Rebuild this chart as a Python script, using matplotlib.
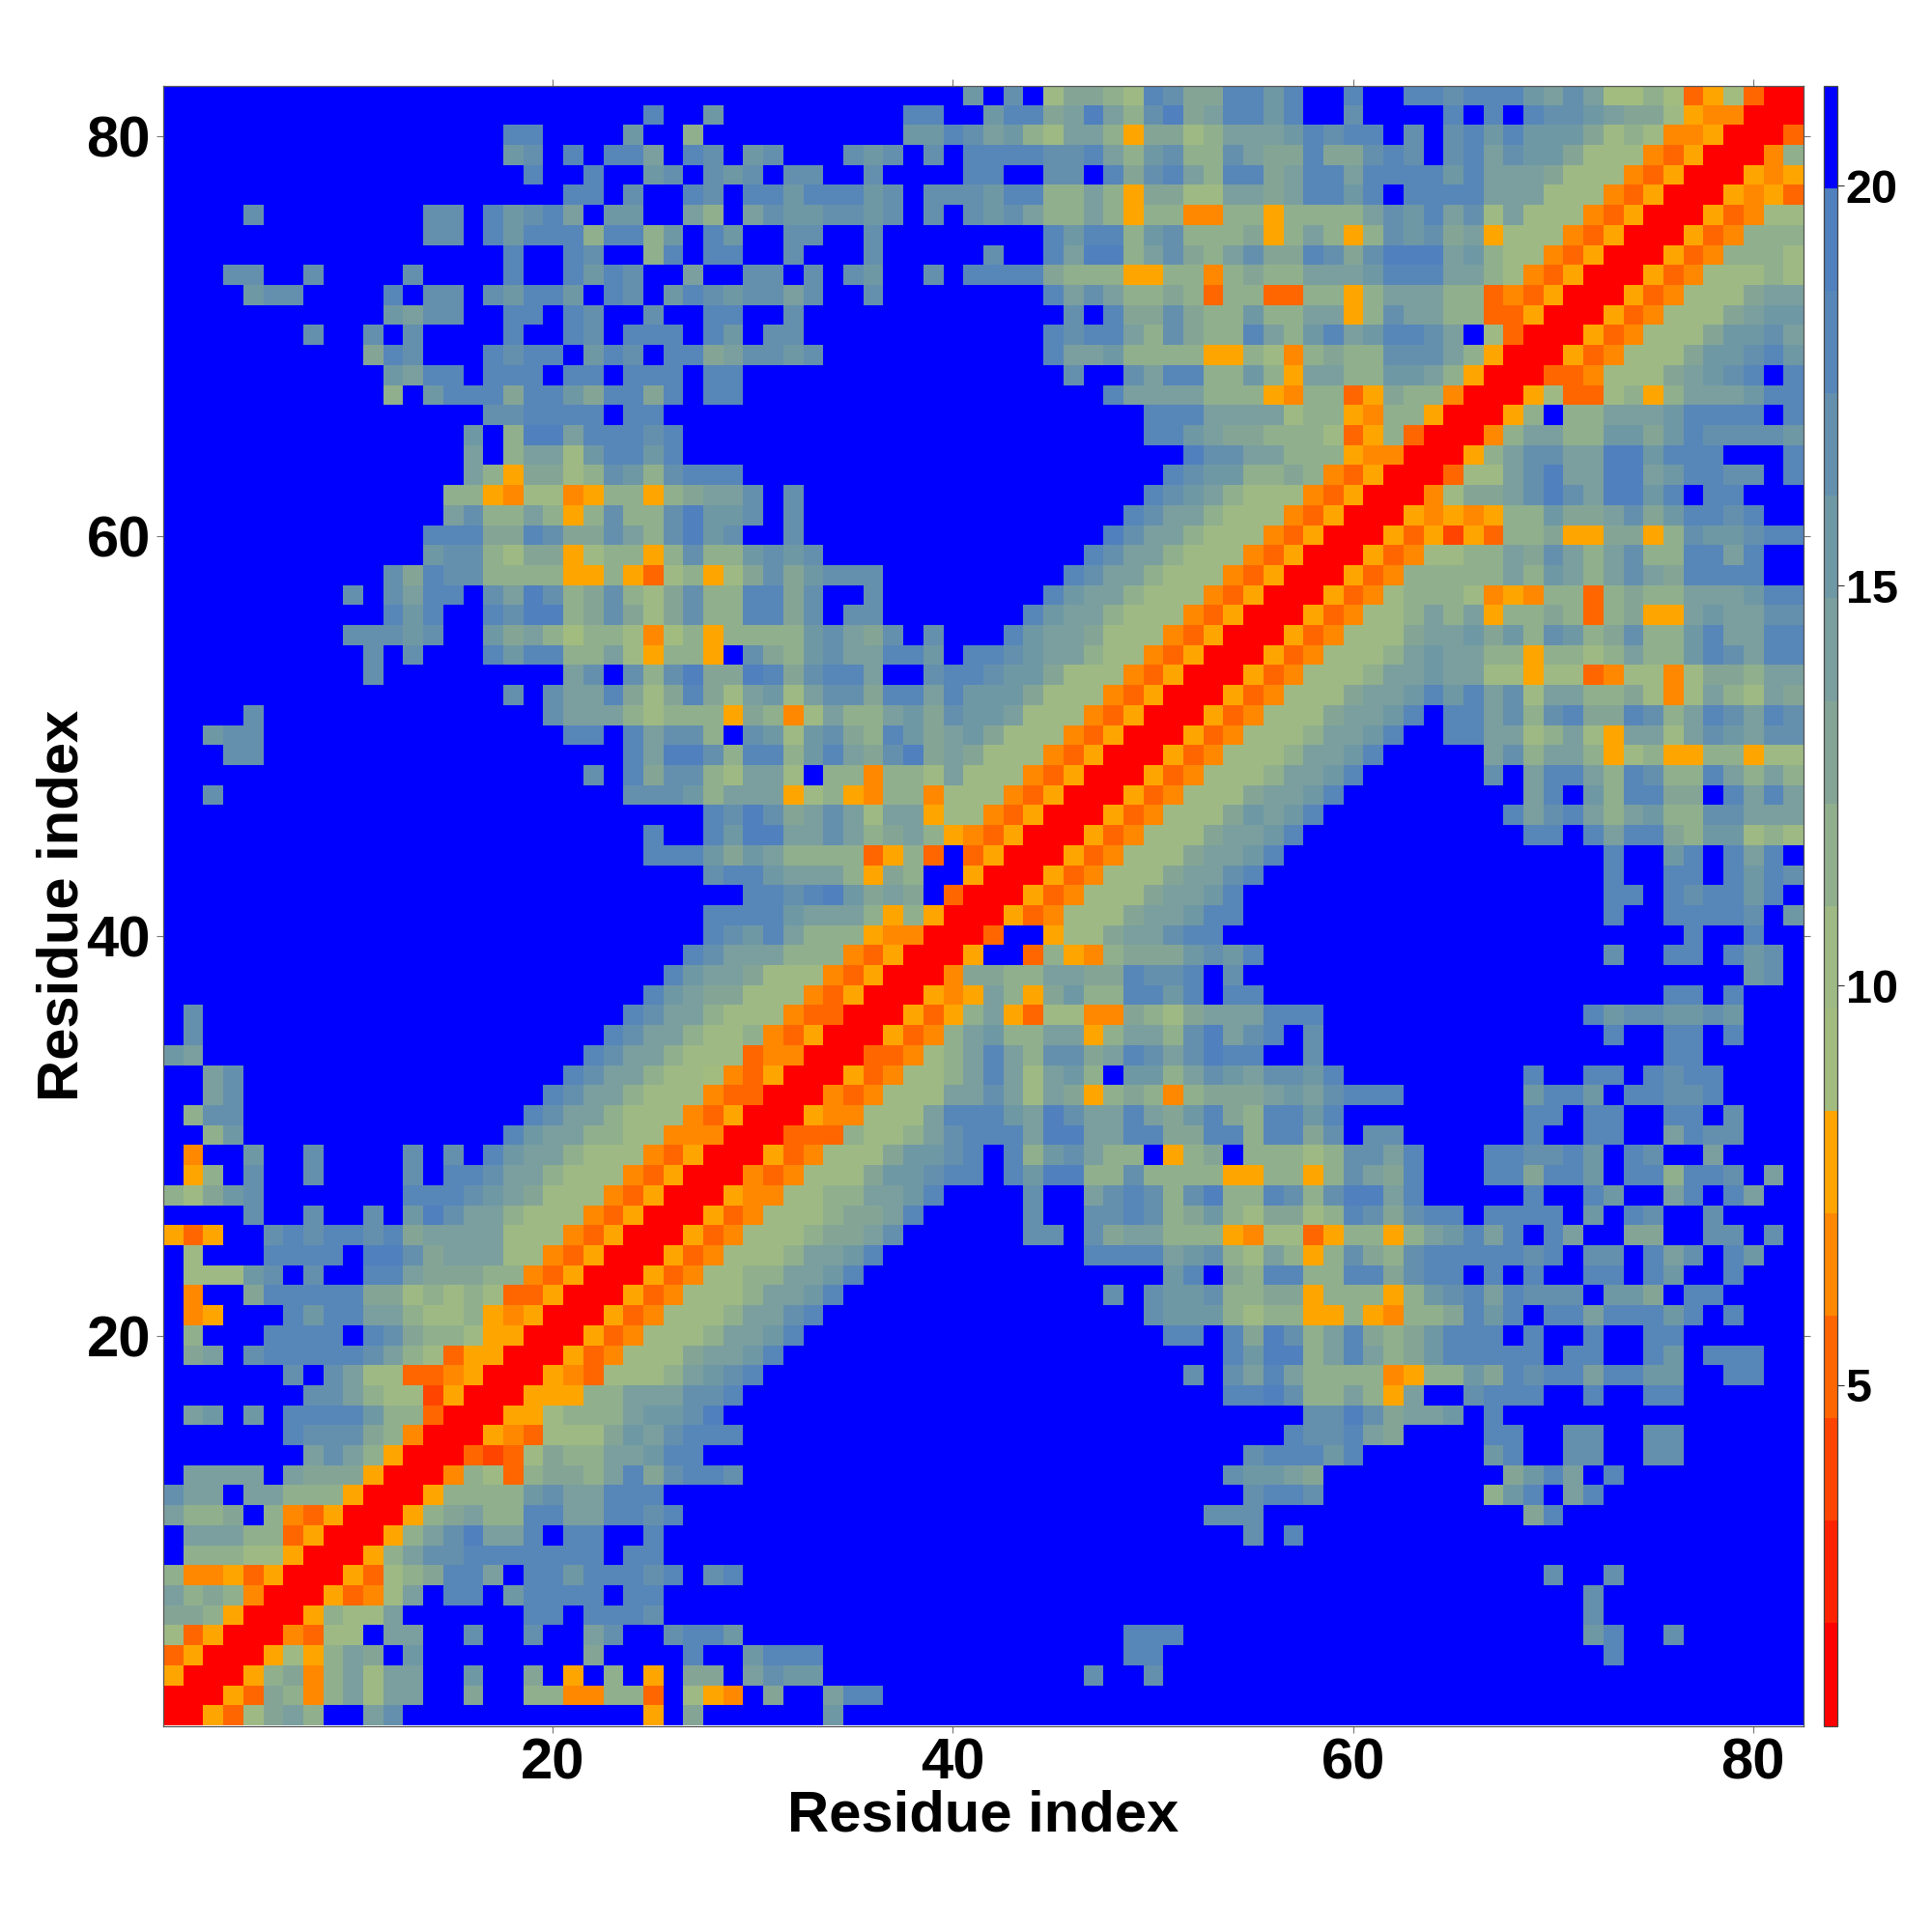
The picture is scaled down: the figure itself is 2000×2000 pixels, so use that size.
import re
import numpy as np
import matplotlib
matplotlib.use('Agg')
import matplotlib.pyplot as plt
from matplotlib.colors import ListedColormap, BoundaryNorm

# contact map, one text row per matrix row (top row first)
# each char is a colour level 0-f, <n> means n blue cells
LEVEL_CHARS = '0123456789abcdef'
LEVEL_COLORS = ['#ff0000', '#ff2200', '#ff4400', '#ff6600', '#ff8800', '#ffa500',
                '#a2bc80', '#9eb984', '#90af8c', '#84a596', '#7a9f9e', '#6f98a5',
                '#6490ae', '#5786b9', '#5080be', '#0000ff']
VMIN = 0.74
VMAX = 21.25

MAP_ROWS = [
    "<28> <12>bfcf79987dc99dd bdffdffddcdddbaca6686356300",
    "<24>dffb <9>ddffbdd9aea8ce9add bdffcffffdfdfdccba997544000",
    "<17>dd<4>b<2>8f <9>bbdcab87aa859978aa abdcddfcfcdbdbbb978744 50003",
    "<17>bcfdfddafdc fbcfffcbcfcfddddccda8bc88ca 99d99cdcfcdacbb977743500048",
    "<18>dffdffbcfc bcfccffcffffddffccfd9cda8dd 9addaddddbdaaa9777435000545",
    "<20>ddfcffdc fddbdddbcfcccbdd88a859977aa 9addbdfddddaaa7774350005453",
    "<4>c<8>ccfdbcdafbbffa8 facbbccbcfcfcbca88a85884488 58888acbdac7a77743500053477",
    "<13>ccfdbddd8dd8bfd bffccffc<8>dbdd8bc8889 58a858cbc9a5777435000534888",
    "<17>dffdcff8dfd dffcfffc<5>cffdaee8ac98ac 99dc9ceeeab8774350005348887",
    "<3>cc<2>c<4>c<4>d<2>dbdc<2>af fccfcfcbffcfdddd98885588489 88aaabdddaa874350005 3477787",
    "<4>bcc<4>dfccfcbddbfdcfbdc bccacffc<8>daca8898388 338858aaa88343500053 47779aa",
    "<11>bacc<2>ddfdc<2>c<2>d dffc<13>cfd99c988b 88aa58caa88335000534 7779abb",
    "<7>c<2>cfc<4>d<2>dcfdddfd bfcc<12>dcdda8c988d a8bdabddcaf730005347 779bbca",
    "<10>9dc<3>dcddfbdcfdd9 accbc<11>daab8888558 748988ccca8500053477 79bbcdb",
    "<11>baddfdddfddfdddfd d<16>cffcadd88b 85aa88bba85000334777 9abcdfd",
    "<11>8fbddd9ddb9dd9dfd d<18>daaaa888 54883598840005733785 8aaabdd",
    "<16>ccddddfdd<3> <21>dddaaa a7885488500058f88aaa bddddfd",
    "<15>bf8eeadddcdff <21>ddba99 8887358300048aa88bb9 bdccccb",
    "<15>af8aa7bddbdff <23>ecca a88854400058accaaeeb dddfffd",
    "<15>a85997 8cb8cdd d<21>dcbb8 898435000377aceaaeea bddccfd",
    "<14>8854774588589a acfc<17>dcba87 774350004799acecaeeb dfddfff",
    "<14>ac88a858c88ceb bcfc<16>dcaa877 74350005454588b99ac9 bddcdff",
    "<13>ddd99dc99ca8ceb cffc<15>ecaa8777 43500053525388955995 8cbbcdd",
    "<13>bcc8799578858c8 8bcbc<13>dcaa87774 350005347788a9ca8ac8 8ddadff",
    "<11>c9dcc888855853785 79c9bccc<9>dcaa877743 500053488888a8ba8aca 9ddddff",
    "<9>cfcaddfcaec89c879c8 8dd9cffc<8>dbaa8777435 00053478887454883898 8aaabdd",
    "<11>dbdffdcee89c979c8 8dd9cfcc<7>dbaa87774350 005347 78a8a588983895 5abaacc",
    "<9>cccbcffb9a868874685 8888bca9cfcfffdbaa977743500 05347779aab9b8cb89c8 8bdaadd",
    "<10>cfcfffdbdd88a75885 fc98bcaaddbfddcbaa877435000 534777 8abaa885887 8a88bdcadd",
    "<10>c<9>acfc8ce9 9ed9cddaffcddcbb97774350005 347778aabaa775773477 47 998aa",
    "<17>cfcaad979d9 7ab7acc9ddadbbb977743500053 47779aabdbdac7aa8897 47a87a9",
    "<4>c<14>caaa87888 5984 7a88ab9cbba777435000534 7779aabdfddac8cd99dc 8adcadc",
    "<2>bcc<15>ddfdacc8 fcb7bc98db9ab97774350005347 778aabdffddaa78a75aa 7acbacc",
    "<3>cc<18>daeec 8dd8bda9ce9a97774350 0053477 78aabdffff fac8aa8578 5588577",
    "<21>cfd9cc8 7aa7f884887a77743500 0534777 8aabd<6>cfadda8dc88da8a8",
    "<2>c<20>cccb8 aaa57854884777435000 5347779 aabd<9>adfb8dd99fdada",
    "<27>d cec9aca7aa5774350005 347779b abd<9>dacda8ab88ccaaa",
    "<24>dffd beeaaca89a8543500053 4777 9aa bd<11>ddfdadd98bb787",
    "<24>dddb 9ba88883583f350005347779aab d<16>dffbdfdadf",
    "<27>c ddbaaa8598ff50005347779aacd <17>dffddfdbdc",
    "<28> fddcdeb9a9f30005347 779aabdf <17>ddfdcddbdf",
    "<27>d dddbaaa8585000534777 9aabddf <17>dffddddcfb",
    "<27>d cbda8885440003ff5779 aacddff <21>dffdff",
    "<26>dc aaa888435 0005ff38548 999bcbd <17>cffddfdbcf",
    "<25>dba a977743500 0499 88aa99 dccdfcf <24>bcf",
    "<24>dba9 9777435000545a859b88 ddbdfdd <20>ddfdfff",
    "fc<21>dcaa8 7774330005358a537744 9879aaa ddd<13>dbccbbcb<3>",
    "fc<20>dcaa87 784350005348ab88aa58 aa8ceac dfc<14>dffddfdfff",
    "ba<19>dcaa877 734400033478ada8cc9a dcacedd ffc<17>dd<5>",
    "ffac<16>dcaa8776 435000534778ada7ab8f bb8acba ccbd<9>dffddfdcdd<4>",
    "ffac<15>dcaa87774 33000434777aaca7a958 9848999 abacddd<6>bddbfddccd<4>",
    "f8cc<14>dcaa877743 5000544777adddbaecaa da9bd98 ddbd<9>ddfddffddfc<3>",
    "ff8b<13>dbaa8877444 0003338778acdddaeeaa dd99dd8 dd9cfcc<6>dffddffadcc<3>",
    "f4ffbffc<4>cfcfdbaa87774350 0053477 79bbcdfd8bca8 8f589f8 8878ccadfffddccdbfdc ffaffff",
    "f58fcffc<4>cfddcaa877743500 043477 79bbcddfdbee88 c888855 8858ca9dfffdd9ddbfdd 8ddcfaf",
    "879bc<7>dddcba9777435000 54477 88aabdffffcffac dc8ce88 dc8ceead<5>dffdbffadfdaff",
    "ffffcffcffcfbecaa87774350005 3477789 9adfffffcffcc dc89b87 9978dc9cddfddddfbfdc ffcffff",
    "535ffcdcddcd9aaaa777435000 53 4777 899ac<6>ccfc9aa88854 773588 58abdadfdaff99 ffccfcf",
    "f7fffddddfeec9aaa7743500053 4 7778aabd<10>ddddabc87 a858c98cdddddcdfccfd acfdbff",
    "f777bcfcffdda99988435000 5347 788aabd<15>bdf98 dd88dd9cddfdfdffddfd bffdfff",
    "f4ff9ddddd9978787335000 53477 78aabd<13>cfcbbc88 99588858bcdadcccfbb9 fddffff",
    "f45fffdbddaa8778545000534777 8aacd<16>cbbb87 8855854889dbdfddaddd bdfdfff",
    "f8fffddddfdc988755000534 7778 aabd<18>ddfd9 ec8ad989bdddfdffdffd dffffff",
    "f9afcdddddca87355000534 7779a abd<22>db ee8ada89bdddddfddffd bfdddff",
    "ffffffcfca773345000543 7778ab cd<21>cfca da88884588b9dcddaddb bffddff",
    "<7>cca87725000555 88aaacc d<24>dd ec88a85affcdddffdffd dffffff",
    "fabfbfddddb88300055 7888abbce <27> ffccec9aabfd<15>",
    "<6>dccc984000543777 9bacdd d<26> fdccda9<4>ddffccffcc<6>",
    "<7>aca85000323 7988aabddf <26>c dddbd<6>bdffccffcc<6>",
    "faaaafa99950004873 8998ad9cdd c<24>cb ba9<9>9bdafd<9>",
    "caafaa888500058888 bcaadddfff <26>c ddc<8>8bdfad<10>",
    "a889f84350005 89a88ddaaddcdff <24>ccc <13>9d<12>",
    "faaa883500058 aceaadfddffdfff <26>c fd<25>",
    "f8887750005 8accdddddddfddfff <27> <27>",
    "84453500053789ddafddbdddcdfc d<26> <14>cffc<9>",
    "a8984000 5347afddfbddddfddfff <27> <16>c<10>",
    "9985000 5877a<6>ddfdddcfff <27> <16>c<10>",
    "735000 4377faaffcffcffacffcdd b<19>ddd<4> <16>bdffc<6>",
    "350005758a9fb<8>9<4>df fbddd<15>dd<5> <17>d<9>",
    "5000 5894 8a7aaffbff9f5f8f5f99 facbb<13>cffc<5> <27>",
    "000539848a7aaff9ff88448 83f75 4f9ffadd<19> <27>",
    "005379a8ffac<12>5f9f <5>b<21> <27>",
]

X_TICKS = [20, 40, 60, 80]
Y_TICKS = [20, 40, 60, 80]
CBAR_TICKS = [5, 10, 15, 20]
LABEL = 'Residue index'


def parse_row(text):
    text = text.replace(' ', '')
    text = re.sub(r'<(\d+)>', lambda m: 'f' * int(m.group(1)), text)
    return [LEVEL_CHARS.index(c) for c in text]


bounds = np.linspace(VMIN, VMAX, len(LEVEL_COLORS) + 1)
rows = [parse_row(r) for r in MAP_ROWS]
bad = [(i, len(r)) for i, r in enumerate(rows) if len(r) != 82]
if bad or len(rows) != 82:
    raise ValueError(f'rows={len(rows)} bad={bad}')
levels = np.array(rows)
values = (bounds[levels] + bounds[levels + 1]) / 2

plt.rcParams['font.family'] = ['Liberation Sans', 'DejaVu Sans']
plt.rcParams['font.weight'] = 'bold'

fig = plt.figure(figsize=(20, 20), dpi=100)
ax = fig.add_axes([168.5 / 2000, 213.5 / 2000, 1698 / 2000, 1697.5 / 2000])
cax = fig.add_axes([1888 / 2000, 213.5 / 2000, 14.5 / 2000, 1697.5 / 2000])

cmap = ListedColormap(LEVEL_COLORS)
norm = BoundaryNorm(bounds, cmap.N)
im = ax.imshow(values, origin='upper', extent=[0.5, 82.5, 0.5, 82.5], aspect='auto',
               interpolation='nearest', cmap=cmap, norm=norm)

ax.set_xticks(X_TICKS)
ax.set_yticks(Y_TICKS)
ax.tick_params(axis='both', which='major', top=True, right=True, length=5, width=0.8,
               color='#777777', labelsize=43, pad=4)
for s in ax.spines.values():
    s.set_linewidth(0.9)
    s.set_color('#555555')

ax.set_xlabel(LABEL, fontsize=43, fontweight='bold')
ax.set_ylabel(LABEL, fontsize=43, fontweight='bold')
ax.xaxis.set_label_coords(0.5, -0.039)
ax.yaxis.set_label_coords(-0.0447, 0.5)

cb = fig.colorbar(im, cax=cax, ticks=CBAR_TICKS, spacing='proportional', drawedges=False)
cb.ax.minorticks_off()
cb.ax.tick_params(length=5, width=0.8, color='#333333', labelsize=35, pad=1)
cb.ax.set_yticklabels([str(t) for t in CBAR_TICKS])
cb.outline.set_linewidth(0.9)
cb.outline.set_edgecolor('#444444')

fig.savefig('out.png', dpi=100)
